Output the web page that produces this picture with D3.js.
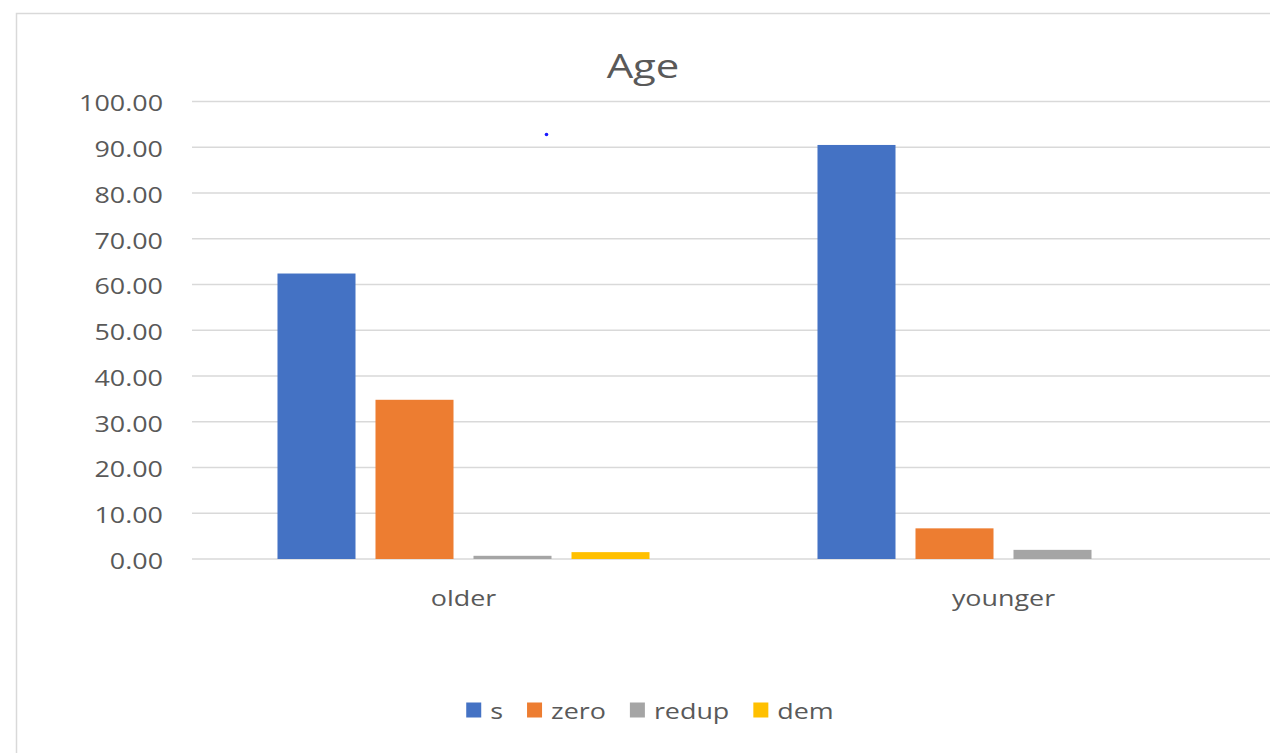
<!DOCTYPE html>
<html>
<head>
<meta charset="utf-8">
<script src="https://cdn.jsdelivr.net/npm/d3@7"></script>
<style>
  html, body { margin: 0; padding: 0; background: #fff; }
  svg { display: block; }
  text { font-family: "Open Sans", "Noto Sans", sans-serif; fill: #595959; }
</style>
</head>
<body>
<svg id="chart" width="1270" height="753"></svg>
<script>
// Share (%) of each variant by speaker age group
const categories = ["older", "younger"];
const seriesNames = ["s", "zero", "redup", "dem"];
const sValues = [62.4, 90.5];
const zeroValues = [34.8, 6.7];
const redupValues = [0.7, 2.0];
const demValues = [1.5, 0.0];
const yTicks = [0, 10, 20, 30, 40, 50, 60, 70, 80, 90, 100];
const colors = ["#4472C4", "#ED7D31", "#A5A5A5", "#FFC000"];

const seriesValues = [sValues, zeroValues, redupValues, demValues];
const rows = categories.map((c, i) => ({
  category: c,
  values: seriesNames.map((s, j) => ({ series: s, value: seriesValues[j][i] }))
}));

const W = 1270, H = 753;
const stretch = 1.25; // horizontally widened lettering
const labelSize = 21.5;
const plot = { left: 193.5, right: 1273.5, top: 101.5, bottom: 559 };

const svg = d3.select("#chart");

// chart frame (left and top edges)
svg.append("path")
  .attr("d", `M16.5,${H} V13.5 H${W}`)
  .attr("fill", "none")
  .attr("stroke", "#d9d9d9")
  .attr("stroke-width", 1.5);

const x0 = d3.scaleBand().domain(categories).range([plot.left, plot.right]);
const x1 = d3.scaleBand().domain(seriesNames).range([0, x0.bandwidth()])
  .paddingInner(0.204).paddingOuter(0.857);
const y = d3.scaleLinear().domain([0, 100]).range([plot.bottom, plot.top]);
const color = d3.scaleOrdinal().domain(seriesNames).range(colors);

// helper: stretched text placed at (x, y)
function sText(parent, x, yy, str, size, anchor) {
  const g = parent.append("g").attr("transform", `translate(${x},${yy}) scale(${stretch},1)`);
  return g.append("text")
    .attr("text-anchor", anchor)
    .attr("dominant-baseline", "central")
    .style("font-size", size + "px")
    .text(str);
}

// gridlines
svg.append("g").selectAll("line")
  .data(yTicks)
  .join("line")
  .attr("x1", plot.left - 1.5).attr("x2", plot.right)
  .attr("y1", d => y(d)).attr("y2", d => y(d))
  .attr("stroke", "#d9d9d9")
  .attr("stroke-width", 1.5);

// y tick labels
const yLab = svg.append("g");
yTicks.forEach(t => sText(yLab, 163, y(t) + 1.5, d3.format(".2f")(t), labelSize, "end"));

// bars
svg.append("g").selectAll("g")
  .data(rows)
  .join("g")
  .attr("transform", d => `translate(${x0(d.category)},0)`)
  .selectAll("rect")
  .data(d => d.values)
  .join("rect")
  .attr("x", d => x1(d.series))
  .attr("width", x1.bandwidth())
  .attr("y", d => y(d.value))
  .attr("height", d => y(0) - y(d.value))
  .attr("fill", d => color(d.series));

// category labels
const xLab = svg.append("g");
categories.forEach(c => sText(xLab, x0(c) + x0.bandwidth() / 2, 598, c, labelSize, "middle"));

// title
sText(svg, 643, 65, "Age", 33.5, "middle");

// small blue marker
svg.append("circle").attr("cx", 546.5).attr("cy", 134.5).attr("r", 1.8).attr("fill", "#1a1aff");

// legend
const legend = svg.append("g");
const sq = 15, gapText = 9, gapItem = 24, legY = 711;
const tmp = legend.append("text").style("font-size", labelSize + "px");
const widths = seriesNames.map(s => { tmp.text(s); return tmp.node().getComputedTextLength() * stretch; });
tmp.remove();
const total = d3.sum(widths) + seriesNames.length * (sq + gapText) + (seriesNames.length - 1) * gapItem;
let cx = 650 - total / 2;
seriesNames.forEach((s, i) => {
  legend.append("rect")
    .attr("x", cx).attr("y", legY - sq / 2 - 1)
    .attr("width", sq).attr("height", sq)
    .attr("fill", color(s));
  sText(legend, cx + sq + gapText, legY, s, labelSize, "start");
  cx += sq + gapText + widths[i] + gapItem;
});
</script>
</body>
</html>
